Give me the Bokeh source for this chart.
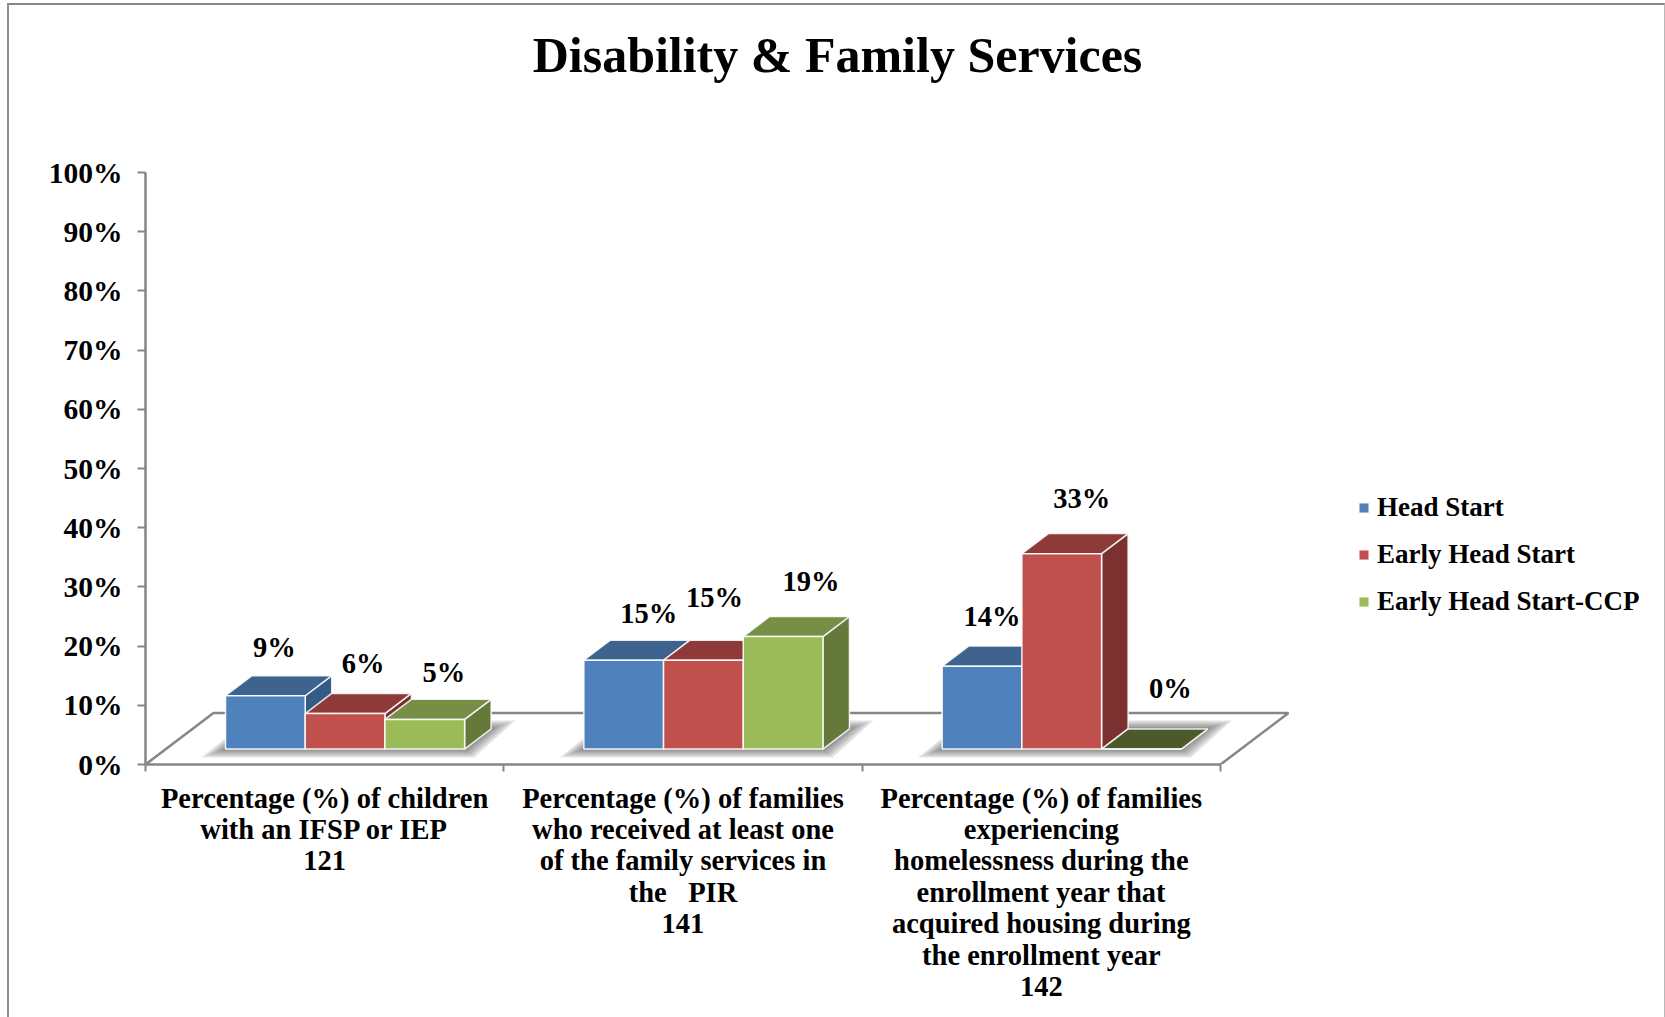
from bokeh.embed import file_html
from bokeh.models import ColumnDataSource, FixedTicker, Label, Legend, LegendItem, Range1d
from bokeh.plotting import figure
from bokeh.resources import INLINE

TITLE = "Disability & Family Services"
CATEGORIES = [
    "Percentage (%) of children\nwith an IFSP or IEP\n121",
    "Percentage (%) of families\nwho received at least one\nof the family services in\nthe \u00a0 PIR\n141",
    "Percentage (%) of families\nexperiencing\nhomelessness during the\nenrollment year that\nacquired housing during\nthe enrollment year\n142",
]
SERIES = ["Head Start", "Early Head Start", "Early Head Start-CCP"]
HEAD_START = [9, 15, 14]
EARLY_HEAD_START = [6, 15, 33]
EARLY_HEAD_START_CCP = [5, 19, 0]
Y_TICKS = list(range(0, 101, 10))

FRONT = ["#4F81BD", "#C0504D", "#9BBB59"]
TOP = ["#3E638F", "#8E3A38", "#768E45"]
SIDE = ["#345A85", "#7A3130", "#64793A"]
EMPTY_TOP = "#4B5A28"
GRAY = "#868686"
FONT = "Liberation Serif"

# Oblique projection: depth 0 is the front of the floor, depth 1 its back edge.
CATEGORY_PX = 358.33
PX_PER_PCT = 5.92
DEPTH_X = 68 / CATEGORY_PX
DEPTH_Y = 51.5 / PX_PER_PCT
BAR_WIDTH = 79.7 / CATEGORY_PX
BAR_NEAR = 0.30
BAR_FAR = 0.69

# Pixel nudges of the value labels relative to each bar's front-top centre,
# listed series by series.
LABEL_DX = [[9, 25, 10], [18, 11, 20], [19, 28, 29]]
LABEL_DY = [[-48, -47, -50], [-50, -63, -55], [-47, -55, -61]]

# Outer chart border: the left, top and right edges run around the page.
BORDER_CSS = """
:host::after {
  content: "";
  position: absolute;
  left: 7px;
  top: 3px;
  right: 0;
  bottom: 0;
  box-sizing: border-box;
  border-left: 2px solid #909090;
  border-top: 2px solid #868686;
  border-right: 1px solid #b8b8b8;
  pointer-events: none;
}
"""


def project(x, value, depth):
    return x + depth * DEPTH_X, value + depth * DEPTH_Y


def prism(x0, x1, v):
    """Return the top and side faces of one box as x/y vertex lists."""
    near_l = project(x0, v, BAR_NEAR)
    near_r = project(x1, v, BAR_NEAR)
    far_l = project(x0, v, BAR_FAR)
    far_r = project(x1, v, BAR_FAR)
    base_near = project(x1, 0, BAR_NEAR)
    base_far = project(x1, 0, BAR_FAR)
    top = ([near_l[0], near_r[0], far_r[0], far_l[0]],
           [near_l[1], near_r[1], far_r[1], far_l[1]])
    side = ([near_r[0], far_r[0], base_far[0], base_near[0]],
            [near_r[1], far_r[1], base_far[1], base_near[1]])
    return top, side


# The plot area runs to the top of the page so the heading can sit inside it;
# the value axis itself stops at 100%.
FRAME_PX = 764
p = figure(
    width=1665, height=1017, output_backend="svg", toolbar_location=None,
    x_range=Range1d(0, (1665 - 145) / CATEGORY_PX),
    y_range=Range1d(0, FRAME_PX / PX_PER_PCT),
    min_border_left=145, min_border_right=0, min_border_top=0, min_border_bottom=253,
    outline_line_color=None,
)
p.grid.visible = False
p.stylesheets = [BORDER_CSS]

p.add_layout(Label(
    x=837, y=54, x_units="canvas", y_units="canvas", text=TITLE,
    text_font=FONT, text_font_size="50px", text_font_style="bold", text_color="black",
    text_align="center", text_baseline="middle",
))

# Back and side edges of the floor.
floor = [project(0, 0, 0), project(0, 0, 1), project(3, 0, 1), project(3, 0, 0)]
p.line([c[0] for c in floor], [c[1] for c in floor], line_color=GRAY, line_width=2.5)

# Soft shadow under each group, built from stacked translucent footprints.
group_left = [0.5 - 1.5 * BAR_WIDTH + i for i in range(3)]
for left in group_left:
    right = left + 3 * BAR_WIDTH
    for grow in (24, 19, 14, 9, 5, 2):
        gx = grow / CATEGORY_PX
        gy = grow * 0.35 / PX_PER_PCT
        a = project(left - gx, -gy, BAR_NEAR)
        b = project(right + gx * 0.4, -gy, BAR_NEAR)
        c = project(right + gx, gy, BAR_FAR)
        d = project(left - gx * 0.2, gy, BAR_FAR)
        p.patch([a[0], b[0], c[0], d[0]], [a[1], b[1], c[1], d[1]],
                fill_color="#555555", fill_alpha=0.17, line_color=None)

# Boxes are painted left to right so each one overlaps its left neighbour's side.
legend_items = []
for s, values in enumerate([HEAD_START, EARLY_HEAD_START, EARLY_HEAD_START_CCP]):
    lefts = [group_left[i] + s * BAR_WIDTH for i in range(3)]
    faces = [prism(lefts[i], lefts[i] + BAR_WIDTH, values[i]) for i in range(3)]
    x_shift = [project(x, 0, BAR_NEAR)[0] for x in lefts]
    p.patches([f[1][0] for f in faces], [f[1][1] for f in faces], fill_color=SIDE[s],
              line_color="white", line_width=1.5, line_alpha=0.85)
    p.patches([f[0][0] for f in faces], [f[0][1] for f in faces],
              fill_color=[EMPTY_TOP if v == 0 else TOP[s] for v in values],
              line_color="white", line_width=1.5, line_alpha=0.85)
    base = [project(0, 0, BAR_NEAR)[1]] * 3
    front = p.quad(left=x_shift, right=[x + BAR_WIDTH for x in x_shift],
                   bottom=base, top=[b + v for b, v in zip(base, values)],
                   fill_color=FRONT[s], line_color="white", line_width=1.5, line_alpha=0.9)
    legend_items.append(LegendItem(label=SERIES[s], renderers=[front]))

# Value labels.
for s, values in enumerate([HEAD_START, EARLY_HEAD_START, EARLY_HEAD_START_CCP]):
    source = ColumnDataSource(dict(
        x=[project(group_left[i] + (s + 0.5) * BAR_WIDTH, 0, BAR_NEAR)[0] for i in range(3)],
        y=[project(0, values[i], BAR_NEAR)[1] for i in range(3)],
        text=[f"{v}%" for v in values], dx=LABEL_DX[s], dy=LABEL_DY[s],
    ))
    p.text("x", "y", text="text", source=source, x_offset="dx", y_offset="dy",
           text_align="center", text_baseline="middle", text_font={"value": FONT},
           text_font_style="bold", text_font_size="28.5px", text_color="black")

yaxis = p.yaxis[0]
yaxis.ticker = FixedTicker(ticks=Y_TICKS)
yaxis.major_label_overrides = {t: f"{t}%" for t in Y_TICKS}
yaxis.bounds = (0, 100)
yaxis.axis_line_color = GRAY
yaxis.axis_line_width = 2.5
yaxis.major_tick_line_color = GRAY
yaxis.major_tick_line_width = 2
yaxis.major_tick_in = 0
yaxis.major_tick_out = 8
yaxis.minor_tick_line_color = None
yaxis.major_label_standoff = 15
yaxis.major_label_text_font = FONT
yaxis.major_label_text_font_style = "bold"
yaxis.major_label_text_font_size = "29.5px"
yaxis.major_label_text_color = "black"

xaxis = p.xaxis[0]
xaxis.ticker = FixedTicker(ticks=[0.5, 1.5, 2.5], minor_ticks=[0, 1, 2, 3])
xaxis.major_label_overrides = {0.5: CATEGORIES[0], 1.5: CATEGORIES[1], 2.5: CATEGORIES[2]}
xaxis.bounds = (0, 3)
xaxis.axis_line_color = GRAY
xaxis.axis_line_width = 2.5
xaxis.major_tick_line_color = None
xaxis.minor_tick_line_color = GRAY
xaxis.minor_tick_line_width = 2
xaxis.minor_tick_in = 0
xaxis.minor_tick_out = 7
xaxis.major_tick_in = 0
xaxis.major_tick_out = 0
xaxis.major_label_standoff = 11
xaxis.major_label_orientation = "horizontal"
xaxis.major_label_text_font = FONT
xaxis.major_label_text_font_style = "bold"
xaxis.major_label_text_font_size = "28.5px"
xaxis.major_label_text_color = "black"
xaxis.major_label_text_line_height = 1.014

legend = Legend(
    items=legend_items, location=(1212, 147), orientation="vertical",
    glyph_width=13, glyph_height=13, label_standoff=7, spacing=15, label_height=32,
    padding=0, margin=0, border_line_color=None, background_fill_alpha=0,
    label_text_font=FONT, label_text_font_style="bold", label_text_font_size="27px",
    label_text_color="black",
)
p.add_layout(legend, "center")

open("out.html", "w").write(file_html(p, INLINE))
